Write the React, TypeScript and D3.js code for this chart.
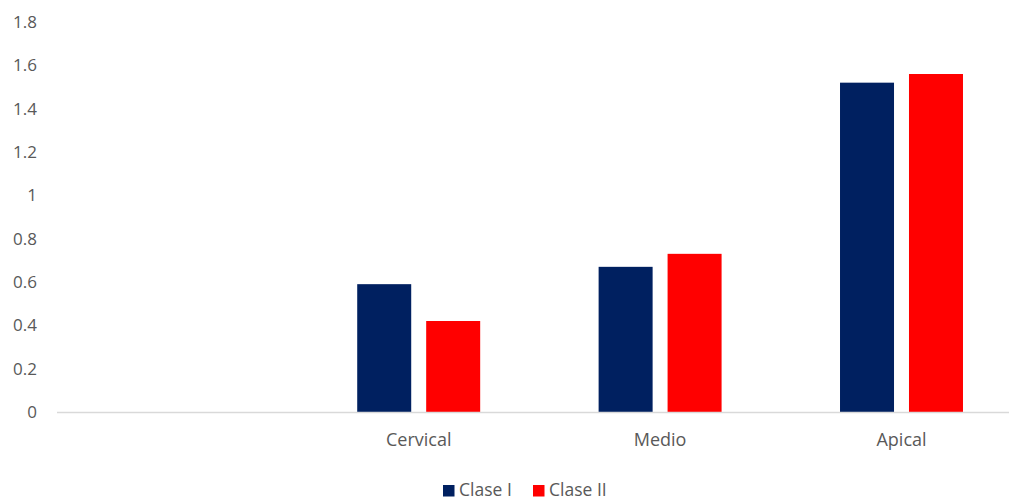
import React from "react";
import * as d3 from "d3";

const categories = ["", "Cervical", "Medio", "Apical"];
const claseI = [null, 0.59, 0.67, 1.52];
const claseII = [null, 0.42, 0.73, 1.56];
const yTicks = [0, 0.2, 0.4, 0.6, 0.8, 1, 1.2, 1.4, 1.6, 1.8];
const seriesNames = ["Clase I", "Clase II"];
const colors = ["#002060", "#FF0000"];

export default function App() {
  const W = 1009, H = 500;
  const x = d3.scaleBand<string>().domain(categories.map((c, i) => i + "|" + c)).range([56.6, 1022.2]).padding(0);
  const y = d3.scaleLinear().domain([0, 1.8]).range([412, 22]);
  const bw = x.bandwidth();
  const barW = bw * 0.2237;
  const gap = bw * 0.062;
  const groupW = barW * 2 + gap;
  const font = "'Open Sans', 'Liberation Sans', sans-serif";
  const series = [claseI, claseII];
  return (
    <svg width={W} height={H} style={{ position: "absolute", left: 0, top: 0 }} fontFamily={font}>
      <rect x={0} y={0} width={W} height={H} fill="#fff" />
      {yTicks.map((t) => (
        <text key={t} x={37} y={y(t)} dy="0.35em" textAnchor="end" fontSize={17} fill="#595959">
          {d3.format("~g")(t)}
        </text>
      ))}
      {categories.map((c, i) => {
        const key = i + "|" + c;
        const x0 = (x(key) as number) + bw / 2 - groupW / 2;
        return (
          <g key={key}>
            {series.map((s, si) => {
              const v = s[i];
              if (v == null) return null;
              return (
                <rect key={si} x={x0 + si * (barW + gap)} y={y(v)} width={barW} height={y(0) - y(v)} fill={colors[si]} />
              );
            })}
            <text x={(x(key) as number) + bw / 2} y={440} dy="0.35em" textAnchor="middle" fontSize={18} fill="#595959">
              {c}
            </text>
          </g>
        );
      })}
      <line x1={57} x2={W} y1={412.5} y2={412.5} stroke="#D9D9D9" strokeWidth={1.5} />
      <g>
        <rect x={443} y={485} width={11.5} height={11.5} fill={colors[0]} />
        <text x={459} y={490} dy="0.35em" fontSize={17.5} fill="#595959">{seriesNames[0]}</text>
        <rect x={533} y={485} width={11.5} height={11.5} fill={colors[1]} />
        <text x={549} y={490} dy="0.35em" fontSize={17.5} fill="#595959">{seriesNames[1]}</text>
      </g>
    </svg>
  );
}
